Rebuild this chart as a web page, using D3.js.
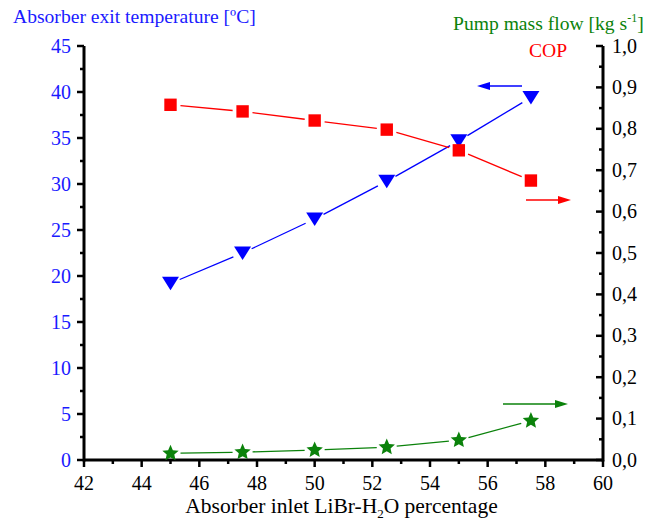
<!DOCTYPE html>
<html><head><meta charset="utf-8">
<script src="https://cdn.jsdelivr.net/npm/d3@7"></script>
<style>body{margin:0;background:#fff}svg{display:block}</style>
</head><body>
<svg id="c" width="654" height="524" font-family="'Liberation Serif', 'Times New Roman', Times, serif"></svg>
<script>
const xValues=[45,47.5,50,52.5,55,57.5];
const temperature=[19.2,22.5,26.2,30.3,34.7,39.4];
const cop=[0.858,0.842,0.820,0.798,0.748,0.675];
const massFlow=[0.016,0.019,0.024,0.031,0.048,0.095];
const xTicks=[42,44,46,48,50,52,54,56,58,60];
const yLeftTicks=[0,5,10,15,20,25,30,35,40,45];
const yRightTicks=[0,0.1,0.2,0.3,0.4,0.5,0.6,0.7,0.8,0.9,1.0];

const svg=d3.select("#c");
const L=84,R=603,T=46,B=460;
const x=d3.scaleLinear().domain([42,60]).range([L,R]);
const yL=d3.scaleLinear().domain([0,45]).range([B,T]);
const yR=d3.scaleLinear().domain([0,1]).range([B,T]);
const fmtR=d=>d3.format(".1f")(d).replace(".",",");

const minorX=d3.range(43,60,2);
const minorL=d3.range(2.5,45,5);
const minorR=d3.range(0.05,1,0.1);

const g=svg.append("g");
const xa=g.append("g").attr("transform",`translate(0,${B})`);
xa.selectAll("line.mj").data(xTicks).join("line").attr("x1",d=>x(d)).attr("x2",d=>x(d)).attr("y1",0).attr("y2",7).attr("stroke","#000").attr("stroke-width",2.5);
xa.selectAll("line.mn").data(minorX).join("line").attr("x1",d=>x(d)).attr("x2",d=>x(d)).attr("y1",0).attr("y2",4).attr("stroke","#000").attr("stroke-width",2.5);
xa.selectAll("text").data(xTicks).join("text").attr("x",d=>x(d)).attr("y",30).attr("text-anchor","middle").attr("font-size",20).attr("fill","#000").text(d=>d);

const la=g.append("g").attr("transform",`translate(${L},0)`);
la.selectAll("line.mj").data(yLeftTicks).join("line").attr("y1",d=>yL(d)).attr("y2",d=>yL(d)).attr("x1",0).attr("x2",-7).attr("stroke","#000").attr("stroke-width",2.5);
la.selectAll("line.mn").data(minorL).join("line").attr("y1",d=>yL(d)).attr("y2",d=>yL(d)).attr("x1",0).attr("x2",-4).attr("stroke","#000").attr("stroke-width",2.5);
la.selectAll("text").data(yLeftTicks).join("text").attr("x",-13).attr("y",d=>yL(d)+6.5).attr("text-anchor","end").attr("font-size",20).attr("fill","#1a1aff").text(d=>d);

const ra=g.append("g").attr("transform",`translate(${R},0)`);
ra.selectAll("line.mj").data(yRightTicks).join("line").attr("y1",d=>yR(d)).attr("y2",d=>yR(d)).attr("x1",0).attr("x2",-7).attr("stroke","#000").attr("stroke-width",2.5);
ra.selectAll("line.mn").data(minorR).join("line").attr("y1",d=>yR(d)).attr("y2",d=>yR(d)).attr("x1",0).attr("x2",-4).attr("stroke","#000").attr("stroke-width",2.5);
ra.selectAll("text").data(yRightTicks).join("text").attr("x",9).attr("y",d=>yR(d)+6.5).attr("text-anchor","start").attr("font-size",20).attr("fill","#000").text(d=>fmtR(d));

g.append("line").attr("x1",L).attr("x2",R).attr("y1",B).attr("y2",B).attr("stroke","#000").attr("stroke-width",3);
g.append("line").attr("x1",L).attr("x2",L).attr("y1",T).attr("y2",B+1.5).attr("stroke","#000").attr("stroke-width",3);
g.append("line").attr("x1",R).attr("x2",R).attr("y1",T).attr("y2",B+1.5).attr("stroke","#000").attr("stroke-width",3);

// marker path generators
const triDown=()=>"M-8.5,-6.5L8.5,-6.5L0,7Z";
const square=()=>"M-6.2,-6.2H6.2V6.2H-6.2Z";
const star=()=>{const ro=8.6,ri=4.0;let p=[];for(let k=0;k<10;k++){const r=k%2?ri:ro;const a=-Math.PI/2+k*Math.PI/5;p.push([r*Math.cos(a),r*Math.sin(a)]);}return "M"+p.map(q=>q[0].toFixed(2)+","+q[1].toFixed(2)).join("L")+"Z";};

function series(vals,ys,color,markPath,gap){
  const pts=xValues.map((v,i)=>[x(v),ys(vals[i])]);
  for(let i=0;i<pts.length-1;i++){
    const [x1,y1]=pts[i],[x2,y2]=pts[i+1];
    const dx=x2-x1,dy=y2-y1,len=Math.hypot(dx,dy);
    const ux=dx/len,uy=dy/len;
    svg.append("line").attr("x1",x1+ux*gap).attr("y1",y1+uy*gap).attr("x2",x2-ux*gap).attr("y2",y2-uy*gap).attr("stroke",color).attr("stroke-width",1.3);
  }
  svg.selectAll(null).data(pts).join("path")
    .attr("d",markPath)
    .attr("transform",d=>`translate(${d[0]},${d[1]})`)
    .attr("fill",color);
}
series(temperature,yL,"#0000ff",triDown,10);
series(cop,yR,"#ff0000",square,10);
series(massFlow,yR,"#0b820b",star,10);

function arrow(x1,x2,y,color){
  svg.append("line").attr("x1",x1).attr("x2",x2+(x2>x1?-8:8)).attr("y1",y).attr("y2",y).attr("stroke",color).attr("stroke-width",1.5);
  const d=x2>x1?-1:1;
  svg.append("path").attr("d",`M${x2},${y} L${x2+d*13},${y-4} L${x2+d*13},${y+4} Z`).attr("fill",color);
}
arrow(522,477,86,"#0000ff");
arrow(526,571,200,"#ff0000");
arrow(503,568,404,"#0b820b");

svg.append("text").attr("x",13).attr("y",23).attr("font-size",19.6).attr("fill","#1a1aff").text("Absorber exit temperature [ºC]");
const t2=svg.append("text").attr("x",453).attr("y",30).attr("font-size",19.6).attr("fill","#0b820b");
t2.append("tspan").text("Pump mass flow [kg s");
t2.append("tspan").attr("dy",-8).attr("font-size",12).text("-1");
t2.append("tspan").attr("dy",8).text("]");
svg.append("text").attr("x",529).attr("y",57).attr("font-size",19.6).attr("fill","#ff0000").text("COP");
const t3=svg.append("text").attr("x",341.5).attr("y",513).attr("text-anchor","middle").attr("font-size",21.5).attr("fill","#000");
t3.append("tspan").text("Absorber inlet LiBr-H");
t3.append("tspan").attr("dy",5).attr("font-size",13).text("2");
t3.append("tspan").attr("dy",-5).text("O percentage");
</script>
</body></html>
